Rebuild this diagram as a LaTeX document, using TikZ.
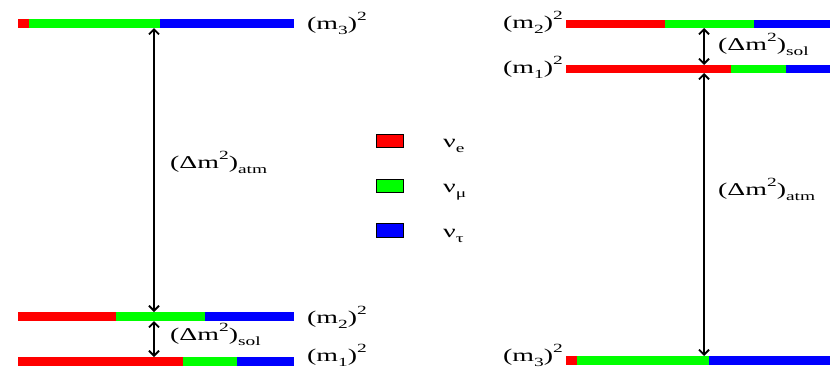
\documentclass[tikz,border=0pt]{standalone}
\usepackage{fontspec}
\setmainfont{Liberation Serif}
\usetikzlibrary{arrows.meta}
\definecolor{nue}{RGB}{255,0,0}
\definecolor{numu}{RGB}{0,255,0}
\definecolor{nutau}{RGB}{0,0,255}
\newcommand{\wide}[1]{\scalebox{1.55}[1]{#1}}
\newcommand{\lowsub}[1]{\raisebox{-0.28em}{\fontsize{12.5}{13}\selectfont #1}}
\newcommand{\highsup}[1]{\raisebox{0.45em}{\fontsize{12.5}{13}\selectfont #1}}
\newcommand{\msq}[1]{\wide{(m\lowsub{#1})\highsup{2}}}
\newcommand{\dmsq}[1]{\wide{(Δm\highsup{2})\lowsub{#1}}}
\newcommand{\nulbl}[1]{\wide{ν\lowsub{#1}}}
\tikzset{
  lbl/.style={inner sep=0pt, font=\fontsize{18}{20}\selectfont},
  gaparrow/.style={draw=black, line width=2.2pt,
    {Straight Barb[length=5pt,width=10pt,line width=1.8pt]}-{Straight Barb[length=5pt,width=10pt,line width=1.8pt]}},
  legbox/.style={draw=black, line width=0.6pt}
}
\begin{document}
\begin{tikzpicture}[x=1pt,y=-1pt]
\useasboundingbox (0,0) rectangle (830,370);
% ---- left: normal ordering ----
% m3
\fill[nue]   (18,19) rectangle (29,28);
\fill[numu]  (29,19) rectangle (160,28);
\fill[nutau] (160,19) rectangle (294,28);
% m2
\fill[nue]   (18,312) rectangle (116,321);
\fill[numu]  (116,312) rectangle (205,321);
\fill[nutau] (205,312) rectangle (294,321);
% m1
\fill[nue]   (18,357) rectangle (183,366);
\fill[numu]  (183,357) rectangle (237,366);
\fill[nutau] (237,357) rectangle (294,366);
\coordinate (L3b) at (154,28);
\coordinate (L2t) at (154,312);
\coordinate (L2b) at (154,321);
\coordinate (L1t) at (154,357);
\draw[gaparrow] (L3b) -- (L2t);
\draw[gaparrow] (L2b) -- (L1t);
\node[lbl,anchor=base west] (lm3) at (307,29) {\msq{3}};
\node[lbl,anchor=base west] (lm2) at (307,323) {\msq{2}};
\node[lbl,anchor=base west] (lm1) at (307,361) {\msq{1}};
\node[lbl,anchor=base west] (latm) at (170,168) {\dmsq{atm}};
\node[lbl,anchor=base west] (lsol) at (170,340) {\dmsq{sol}};
% ---- legend ----
\draw[legbox,fill=nue]   (376,134) rectangle (403,147);
\draw[legbox,fill=numu]  (376,179) rectangle (403,192);
\draw[legbox,fill=nutau] (376,223) rectangle (403,237);
\node[lbl,anchor=base west] (ne) at (443,147) {\nulbl{e}};
\node[lbl,anchor=base west] (nm) at (443,192) {\nulbl{μ}};
\node[lbl,anchor=base west] (nt) at (443,237) {\nulbl{τ}};
% ---- right: inverted ordering ----
% m2
\fill[nue]   (566,20) rectangle (665,28);
\fill[numu]  (665,20) rectangle (754,28);
\fill[nutau] (754,20) rectangle (830,28);
% m1
\fill[nue]   (566,65) rectangle (731,73);
\fill[numu]  (731,65) rectangle (786,73);
\fill[nutau] (786,65) rectangle (830,73);
% m3
\fill[nue]   (566,356) rectangle (577,365);
\fill[numu]  (577,356) rectangle (709,365);
\fill[nutau] (709,356) rectangle (830,365);
\coordinate (R2b) at (704,28);
\coordinate (R1t) at (704,65);
\coordinate (R1b) at (704,73);
\coordinate (R3t) at (704,356);
\draw[gaparrow] (R2b) -- (R1t);
\draw[gaparrow] (R1b) -- (R3t);
\node[lbl,anchor=base east] (rm2) at (563,28) {\msq{2}};
\node[lbl,anchor=base east] (rm1) at (563,73) {\msq{1}};
\node[lbl,anchor=base east] (rm3) at (563,361) {\msq{3}};
\node[lbl,anchor=base west] (rsol) at (718,50) {\dmsq{sol}};
\node[lbl,anchor=base west] (ratm) at (718,195) {\dmsq{atm}};
\end{tikzpicture}
\end{document}
